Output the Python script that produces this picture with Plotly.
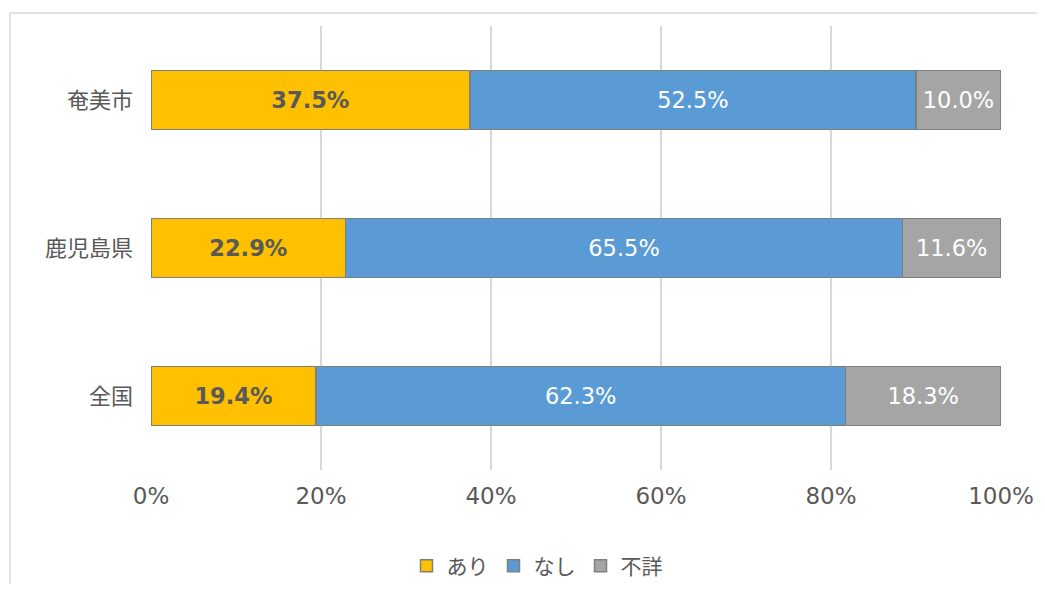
import plotly.graph_objects as go

categories = ["全国", "鹿児島県", "奄美市"]
series_names = ["あり", "なし", "不詳"]
ari = [19.4, 22.9, 37.5]
nashi = [62.3, 65.5, 52.5]
fusho = [18.3, 11.6, 10.0]
colors = ["#FFC000", "#5B9BD5", "#A5A5A5"]
label_colors = ["#595959", "#FFFFFF", "#FFFFFF"]
label_weights = ["bold", "normal", "normal"]
x_ticks = [0, 20, 40, 60, 80, 100]
x_tick_labels = ["0%", "20%", "40%", "60%", "80%", "100%"]

CJK = "Noto Sans CJK JP"
NUM = "DejaVu Sans"
LABEL_SIZE = 22.5
fig = go.Figure()
for name, vals, col, lc, lw in zip(series_names, [ari, nashi, fusho], colors,
                                   label_colors, label_weights):
    fig.add_trace(go.Bar(
        y=categories, x=vals, name=name, orientation="h",
        marker=dict(color=col, line=dict(color="#7F7F7F", width=1.5)),
        text=[f"{v:.1f}%" for v in vals], textposition="inside",
        insidetextanchor="middle",
        textfont=dict(color=lc, size=LABEL_SIZE, family=NUM, weight=lw),
        hoverinfo="skip",
    ))

# page offset of 8px (body margin)
OFF = 8
W, H = 1029, 576
L = 151 - OFF
T = 26 - OFF
R = OFF + W - 1001
B = OFF + H - 470
pw, ph = W - L - R, H - T - B

def px(xp):
    return (xp - OFF - L) / pw

def py(yp):
    return (OFF + H - B - yp) / ph

fig.update_layout(
    barmode="stack", bargap=0.6,
    width=W, height=H,
    margin=dict(l=L, r=R, t=T, b=B, autoexpand=False),
    plot_bgcolor="white", paper_bgcolor="white",
    font=dict(family=CJK, color="#595959", size=18),
    uniformtext=dict(minsize=LABEL_SIZE, mode="show"),
    xaxis=dict(range=[0, 100], tickvals=x_ticks, ticktext=x_tick_labels,
               showgrid=True, gridcolor="#D9D9D9", gridwidth=1.5,
               zeroline=False, showline=False, ticks="", automargin=False,
               tickfont=dict(size=23, color="#595959", family=NUM),
               ticklabelstandoff=10),
    yaxis=dict(categoryorder="array", categoryarray=categories,
               showgrid=False, zeroline=False, showline=False, ticks="",
               automargin=False,
               tickfont=dict(size=22, color="#595959", family=CJK),
               ticklabelstandoff=17),
    legend=dict(orientation="h", x=px(537), xanchor="center",
                y=py(566), yanchor="middle",
                font=dict(size=21, color="#595959", family=CJK),
                traceorder="normal", itemwidth=30),
    showlegend=True,
    shapes=[dict(type="rect", xref="paper", yref="paper",
                 x0=px(10), x1=px(1070),
                 y0=py(620), y1=py(13),
                 line=dict(color="#D9D9D9", width=1.5), fillcolor="rgba(0,0,0,0)",
                 layer="below")],
)
fig.write_html("out.html")
